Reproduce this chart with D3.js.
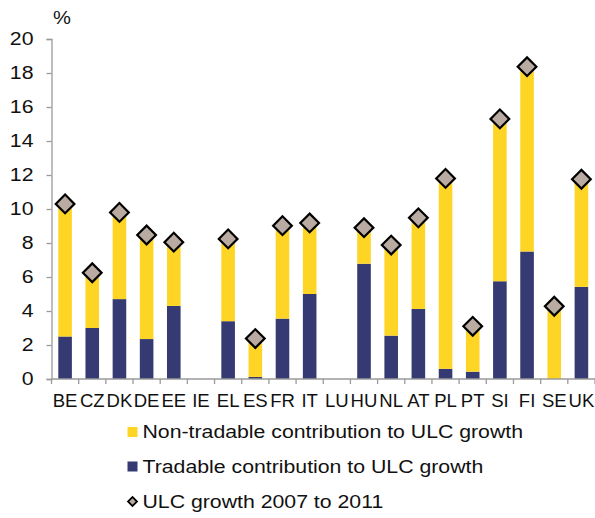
<!DOCTYPE html>
<html>
<head>
<meta charset="utf-8">
<script src="https://cdn.jsdelivr.net/npm/d3@7"></script>
<style>
  html, body { margin: 0; padding: 0; background: #fff; }
  svg { display: block; font-family: "Liberation Sans", Arial, sans-serif; }
</style>
</head>
<body>
<svg id="chart" width="595" height="518"></svg>
<script>
// Country codes along the x axis
const countries = ["BE","CZ","DK","DE","EE","IE","EL","ES","FR","IT","LU","HU","NL","AT","PL","PT","SI","FI","SE","UK"];
// Tradable contribution to ULC growth (pp); null where no data
const tradable = [2.5, 3.0, 4.7, 2.35, 4.3, null, 3.4, 0.12, 3.55, 5.0, null, 6.78, 2.55, 4.12, 0.6, 0.43, 5.75, 7.5, 0.0, 5.42];
// Total ULC growth 2007 to 2011 (%)
const ulcGrowth = [10.3, 6.25, 9.8, 8.47, 8.05, null, 8.24, 2.38, 9.02, 9.18, null, 8.9, 7.88, 9.48, 11.8, 3.1, 15.3, 18.37, 4.28, 11.75];
// Non-tradable contribution = total minus tradable part
const nonTradable = ulcGrowth.map((v, i) => v == null ? null : +(v - tradable[i]).toFixed(2));
const yTicks = [0, 2, 4, 6, 8, 10, 12, 14, 16, 18, 20];
const legendLabels = ["Non-tradable contribution to ULC growth", "Tradable contribution to ULC growth", "ULC growth 2007 to 2011"];

const colYellow = "#FED524";
const colNavy = "#353A72";
const colDiamond = "#B9ABA1";
const colAxis = "#9A9A9A";
const textCol = "#111";
const wide = 1.15; // horizontal stretch of the text faces

const svg = d3.select("#chart");
const plotLeft = 51.5, plotRight = 595, plotTop = 39, plotBottom = 379;

const x = d3.scaleBand().domain(countries).range([plotLeft, plotRight]).paddingInner(0.5).paddingOuter(0.25);
const xEdge = d3.scaleLinear().domain([0, countries.length]).range([plotLeft, plotRight]);
const y = d3.scaleLinear().domain([0, 20]).range([plotBottom, plotTop]);

// stacked bars
const rows = countries.map((c, i) => ({ c, t: tradable[i], n: nonTradable[i], tot: ulcGrowth[i] }));
const g = svg.append("g");
rows.filter(d => d.tot != null).forEach(d => {
  g.append("rect")
    .attr("x", x(d.c)).attr("width", x.bandwidth())
    .attr("y", y(d.t)).attr("height", y(0) - y(d.t))
    .attr("fill", colNavy);
  g.append("rect")
    .attr("x", x(d.c)).attr("width", x.bandwidth())
    .attr("y", y(d.t + d.n)).attr("height", y(d.t) - y(d.t + d.n))
    .attr("fill", colYellow);
});

// y axis
const yAxis = svg.append("g").attr("transform", `translate(${plotLeft},0)`)
  .call(d3.axisLeft(y).tickValues(yTicks).tickSize(5).tickPadding(13));
yAxis.select(".domain").attr("stroke", colAxis).attr("stroke-width", 1.3);
yAxis.selectAll(".tick line").attr("stroke", colAxis).attr("stroke-width", 1.3);
yAxis.selectAll(".tick text")
  .attr("x", 0)
  .attr("transform", `translate(-18,0) scale(${wide},1)`)
  .attr("font-size", 18.5).attr("fill", textCol)
  .attr("font-family", "Liberation Sans, Arial, sans-serif");

// x axis with ticks at category boundaries
const xAxisG = svg.append("g").attr("transform", `translate(0,${plotBottom})`);
xAxisG.append("line").attr("x1", plotLeft).attr("x2", plotRight).attr("stroke", colAxis).attr("stroke-width", 1.3);
xAxisG.selectAll("line.tk").data(d3.range(countries.length + 1)).join("line")
  .attr("class", "tk")
  .attr("x1", i => xEdge(i)).attr("x2", i => xEdge(i))
  .attr("y1", 0).attr("y2", 5)
  .attr("stroke", colAxis).attr("stroke-width", 1.3);
xAxisG.selectAll("text").data(countries).join("text")
  .attr("transform", c => `translate(${x(c) + x.bandwidth() / 2},28) scale(1.06,1)`)
  .attr("text-anchor", "middle")
  .attr("font-size", 17.5)
  .attr("fill", textCol)
  .text(c => c);

// diamond markers for total growth
svg.append("g").selectAll("path").data(rows.filter(d => d.tot != null)).join("path")
  .attr("d", d3.symbol().type(d3.symbolSquare).size(175)())
  .attr("transform", d => `translate(${x(d.c) + x.bandwidth() / 2},${y(d.tot)}) rotate(45)`)
  .attr("fill", colDiamond)
  .attr("stroke", "#000")
  .attr("stroke-width", 2.2);

// unit label
svg.append("text")
  .attr("transform", `translate(53,24) scale(${wide},1)`)
  .attr("font-size", 17.5).attr("fill", textCol).text("%");

// legend
const lg = svg.append("g");
const lx = 127.5, lyRows = [432, 466.5, 501.5];
lg.append("rect").attr("x", lx).attr("y", lyRows[0] - 5).attr("width", 10).attr("height", 10).attr("fill", colYellow);
lg.append("rect").attr("x", lx).attr("y", lyRows[1] - 5).attr("width", 10).attr("height", 10).attr("fill", colNavy);
lg.append("path")
  .attr("d", d3.symbol().type(d3.symbolSquare).size(40)())
  .attr("transform", `translate(${lx + 5},${lyRows[2]}) rotate(45)`)
  .attr("fill", colDiamond).attr("stroke", "#000").attr("stroke-width", 1.8);
lg.selectAll("text").data(legendLabels).join("text")
  .attr("transform", (d, i) => `translate(142.5,${lyRows[i] + 6})  scale(${wide},1)`)
  .attr("font-size", 18.5)
  .attr("fill", textCol)
  .text(d => d);
</script>
</body>
</html>
